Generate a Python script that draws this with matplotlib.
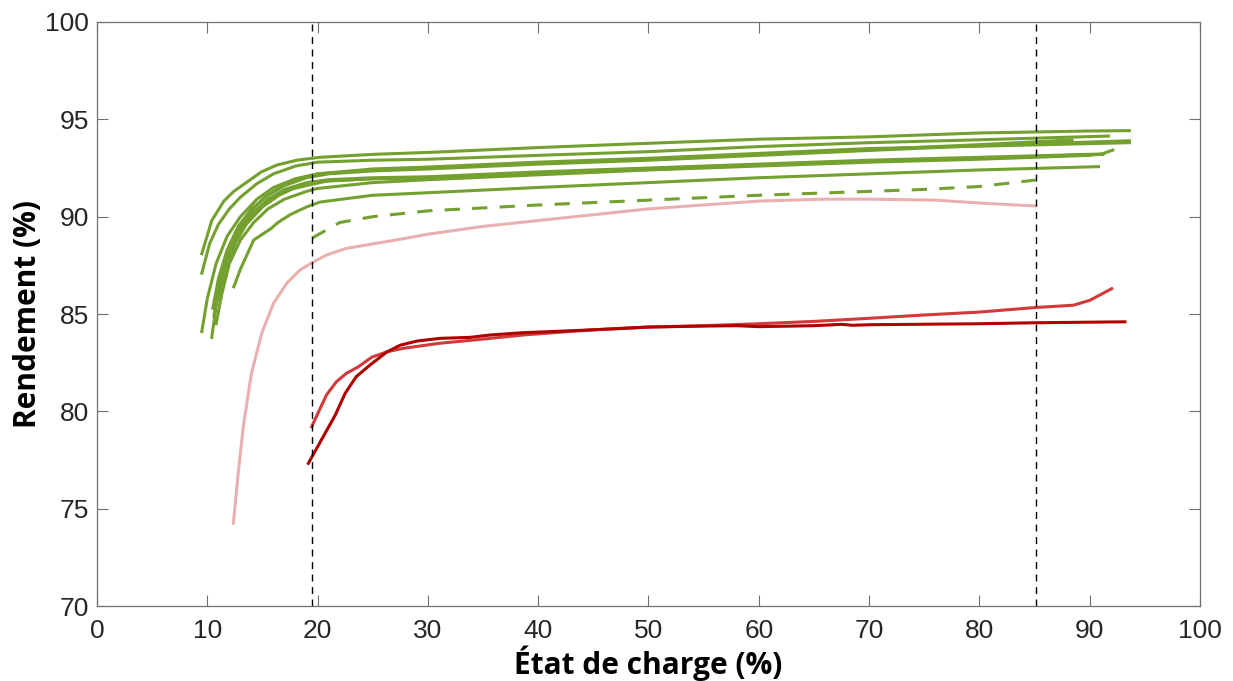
import matplotlib
matplotlib.use("Agg")
import matplotlib.pyplot as plt

# ---- data -------------------------------------------------------------
g1_x = [9.5, 10.4, 11.5, 12.4, 13.4, 14.9, 16.3, 18.1, 20.2, 25, 30, 40, 50, 60, 70, 80, 90, 93.6]
g1_y = [88.1, 89.8, 90.8, 91.3, 91.7, 92.3, 92.65, 92.9, 93.05, 93.2, 93.3, 93.55, 93.77, 93.98, 94.1, 94.3, 94.4, 94.42]
g2_x = [9.5, 10.2, 11.0, 12.0, 13.0, 14.5, 16, 18, 20, 25, 30, 40, 50, 60, 70, 80, 91.7]
g2_y = [87.1, 88.6, 89.6, 90.4, 91.0, 91.7, 92.2, 92.6, 92.8, 92.9, 92.95, 93.15, 93.34, 93.6, 93.8, 93.95, 94.14]
g3_x = [9.5, 10.0, 10.8, 11.8, 13.0, 14.5, 16, 18, 20, 25, 30, 40, 50, 60, 70, 80, 88.4]
g3_y = [84.1, 85.8, 87.6, 89.0, 90.0, 90.9, 91.5, 91.95, 92.2, 92.4, 92.5, 92.75, 92.95, 93.2, 93.45, 93.7, 93.94]
g4_x = [10.5, 11.0, 11.8, 12.8, 14.0, 15.5, 17, 19, 21, 25, 30, 40, 50, 60, 70, 80, 93.6]
g4_y = [85.3, 86.8, 88.3, 89.5, 90.4, 91.1, 91.6, 92.0, 92.2, 92.35, 92.45, 92.7, 92.9, 93.15, 93.4, 93.65, 93.9]
g5_x = [11.8, 12.3, 13.0, 14.0, 15.2, 16.5, 18, 20, 25, 30, 40, 50, 60, 70, 80, 93.6]
g5_y = [87.5, 88.6, 89.5, 90.3, 91.0, 91.5, 91.9, 92.2, 92.45, 92.55, 92.8, 93.0, 93.25, 93.5, 93.62, 93.8]
g6_x = [10.4, 10.8, 11.5, 12.5, 13.5, 15, 16.5, 18, 20, 25, 30, 40, 50, 60, 70, 80, 91.2]
g6_y = [83.8, 85.4, 87.3, 88.7, 89.6, 90.5, 91.1, 91.5, 91.8, 91.95, 92.0, 92.25, 92.45, 92.65, 92.85, 93.0, 93.2]
g7_x = [10.6, 11.1, 11.8, 12.8, 14.0, 15.5, 17, 19, 21, 25, 30, 40, 50, 60, 70, 80, 91.2]
g7_y = [84.9, 86.5, 88.0, 89.2, 90.1, 90.9, 91.4, 91.75, 91.9, 92.0, 92.05, 92.3, 92.5, 92.7, 92.9, 93.05, 93.22]
g8_x = [11.2, 11.7, 12.5, 13.5, 14.7, 16, 17.5, 19, 21, 25, 30, 40, 50, 60, 70, 80, 91.0, 92.1]
g8_y = [85.8, 87.2, 88.6, 89.6, 90.4, 91.0, 91.4, 91.6, 91.85, 91.95, 92.0, 92.2, 92.42, 92.65, 92.85, 93.0, 93.2, 93.42]
g9_x = [10.8, 11.3, 12.0, 13.0, 14.2, 15.5, 17, 19, 20, 25, 30, 40, 50, 60, 70, 80, 90]
g9_y = [84.5, 86.0, 87.6, 88.8, 89.7, 90.4, 90.9, 91.3, 91.45, 91.75, 91.9, 92.15, 92.4, 92.6, 92.8, 92.95, 93.15]
g10_x = [12.4, 13.0, 14.2, 15.8, 16.4, 17.5, 19, 20.2, 25, 30, 40, 50, 60, 70, 80, 90.8]
g10_y = [86.4, 87.3, 88.8, 89.4, 89.7, 90.1, 90.5, 90.75, 91.1, 91.23, 91.5, 91.75, 92.0, 92.2, 92.4, 92.57]

gd_x = [19.5, 22, 25, 30, 40, 50, 60, 70, 75, 80, 85.1]
gd_y = [88.9, 89.7, 90.0, 90.3, 90.6, 90.85, 91.1, 91.3, 91.4, 91.55, 91.88]

pink_x = [12.36, 12.8, 13.26, 14.0, 14.93, 16.0, 17.2, 18.4, 19.5, 20.8, 22.6, 24.45, 27.5, 30, 35, 40, 45, 50, 55, 60, 66, 70, 76, 80, 85.1]
pink_y = [74.25, 76.82, 79.21, 81.95, 84.01, 85.55, 86.58, 87.26, 87.64, 88.03, 88.37, 88.55, 88.84, 89.1, 89.5, 89.8, 90.1, 90.4, 90.6, 90.8, 90.9, 90.9, 90.85, 90.7, 90.55]

red_x = [19.46, 20.8, 21.7, 22.6, 23.7, 24.9, 26.3, 27.8, 31.1, 34.1, 38.6, 44.7, 50, 55, 60, 65, 70, 75, 80, 85, 88.5, 90, 92]
red_y = [79.21, 80.84, 81.52, 81.95, 82.29, 82.78, 83.06, 83.24, 83.5, 83.66, 83.92, 84.18, 84.33, 84.4, 84.5, 84.62, 84.78, 84.95, 85.1, 85.33, 85.45, 85.7, 86.3]

dred_x = [19.16, 21.6, 22.5, 23.5, 24.75, 26.3, 27.5, 29.0, 31.1, 33.8, 35.6, 38.6, 44.7, 50, 55, 58, 60, 65, 67.5, 68.5, 70, 80, 85, 93.2]
dred_y = [77.33, 79.81, 80.93, 81.78, 82.38, 83.06, 83.4, 83.61, 83.75, 83.8, 83.92, 84.04, 84.18, 84.33, 84.38, 84.4, 84.35, 84.4, 84.47, 84.42, 84.45, 84.5, 84.55, 84.6]

vlines_x = [19.5, 85.1]
x_ticks = [0, 10, 20, 30, 40, 50, 60, 70, 80, 90, 100]
y_ticks = [70, 75, 80, 85, 90, 95, 100]

GREEN = "#74a02f"
PINK = "#eab0b0"
RED = "#d23a3a"
DRED = "#b00000"
AXC = "#707070"
TXT = "#262626"

fig = plt.figure(figsize=(12.33, 6.81), dpi=100)
ax = fig.add_axes([0.0787, 0.1101, 0.8945, 0.8576])

greens = [(g1_x, g1_y), (g2_x, g2_y), (g3_x, g3_y), (g4_x, g4_y), (g5_x, g5_y),
          (g6_x, g6_y), (g7_x, g7_y), (g8_x, g8_y), (g9_x, g9_y), (g10_x, g10_y)]
for gx, gy in greens:
    ax.plot(gx, gy, color=GREEN, lw=2.2, solid_joinstyle="round")
ax.plot(gd_x, gd_y, color=GREEN, lw=2.2, ls=(0, (5, 4)))
ax.plot(pink_x, pink_y, color=PINK, lw=2.2)
ax.plot(red_x, red_y, color=RED, lw=2.2)
ax.plot(dred_x, dred_y, color=DRED, lw=2.2)
for vx in vlines_x:
    ax.axvline(vx, color="black", lw=1.0, ls=(0, (5, 4)))

ax.set_xlim(0, 100)
ax.set_ylim(70, 100)
ax.set_xticks(x_ticks)
ax.set_yticks(y_ticks)
ax.tick_params(direction="in", length=8, width=0.8, top=True, right=True,
               labelsize=19, color=AXC, labelcolor=TXT)
ax.tick_params(axis="x", pad=9)
ax.tick_params(axis="y", pad=6)
for lab in ax.get_xticklabels() + ax.get_yticklabels():
    lab.set_fontfamily("Liberation Sans")
for sp in ax.spines.values():
    sp.set_color(AXC)
    sp.set_linewidth(0.9)

ax.set_xlabel("État de charge (%)", fontsize=21.5, fontweight="bold",
              fontfamily="Open Sans", labelpad=2, color="black")
ax.set_ylabel("Rendement (%)", fontsize=21.5, fontweight="bold",
              fontfamily="Open Sans", labelpad=1, color="black")

fig.savefig("out.png", dpi=100)
